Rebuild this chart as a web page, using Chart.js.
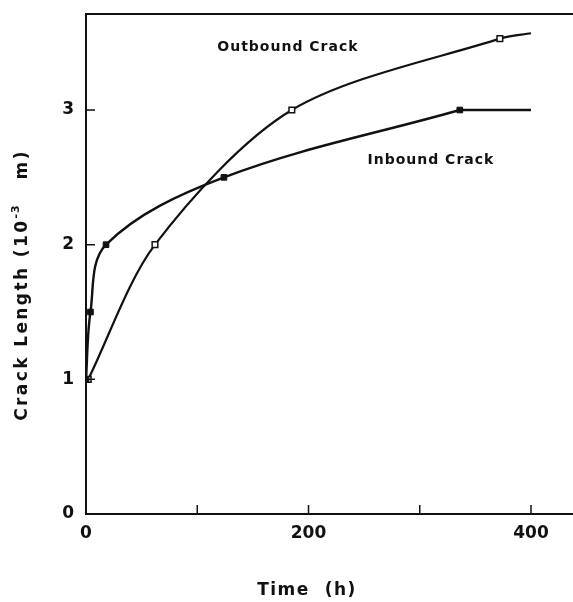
<!DOCTYPE html>
<html>
<head>
<meta charset="utf-8">
<script src="https://cdn.jsdelivr.net/npm/chart.js@4"></script>
<style>
  html, body { margin: 0; padding: 0; background: #fff; }
  #wrap { width: 573px; height: 602px; }
</style>
</head>
<body>
<div id="wrap"><canvas id="crack" width="573" height="602"></canvas></div>
<script>
// values (time in h, crack length in 10^-3 m)
const inboundTime = [0, 4, 18, 124, 336, 400];
const inboundLen = [1.0, 1.5, 2.0, 2.5, 3.0, 3.0];
const outboundTime = [2, 62, 185, 372, 400];
const outboundLen = [1.0, 2.0, 3.0, 3.53, 3.57];
const xLabels = [0, 200, 400];
const yLabels = [0, 1, 2, 3];
const xMinorTicks = [100, 200, 300, 400];
const yMinorTicks = [1, 2, 3];

const ink = '#111';

function pts(xs, ys) {
  return xs.map((x, i) => ({ x: x, y: ys[i] }));
}

// axis titles, curve labels, top frame line and inward ticks
const decor = {
  id: 'decor',
  afterDraw(chart) {
    const { ctx, chartArea: a, scales: { x, y } } = chart;
    ctx.save();
    ctx.strokeStyle = ink;
    ctx.lineWidth = 2;
    ctx.beginPath();
    ctx.moveTo(a.left, a.top);
    ctx.lineTo(a.right, a.top);
    ctx.stroke();

    ctx.lineWidth = 1.5;
    ctx.beginPath();
    xMinorTicks.forEach(v => {
      const px = x.getPixelForValue(v);
      ctx.moveTo(px, a.bottom);
      ctx.lineTo(px, a.bottom - 9);
    });
    yMinorTicks.forEach(v => {
      const py = y.getPixelForValue(v);
      ctx.moveTo(a.left, py);
      ctx.lineTo(a.left + 9, py);
    });
    ctx.stroke();

    ctx.fillStyle = ink;
    ctx.font = 'bold 14px "DejaVu Sans"';
    ctx.letterSpacing = '1px';
    ctx.textBaseline = 'alphabetic';
    ctx.textAlign = 'left';
    ctx.fillText('Outbound Crack', x.getPixelForValue(118), y.getPixelForValue(3.44));
    ctx.fillText('Inbound Crack', x.getPixelForValue(253), y.getPixelForValue(2.6));

    ctx.font = 'bold 17px "DejaVu Sans"';
    ctx.letterSpacing = '1.5px';
    ctx.textAlign = 'center';
    ctx.textBaseline = 'middle';
    ctx.fillText('Time  (h)', 307, 591);

    // rotated y title, superscript drawn smaller and raised
    ctx.translate(27, 285);
    ctx.rotate(-Math.PI / 2);
    ctx.textAlign = 'left';
    ctx.textBaseline = 'alphabetic';
    const big = 'bold 17px "DejaVu Sans"';
    const small = 'bold 11px "DejaVu Sans"';
    const parts = [
      ['Crack Length (10', big, 0, '2.4px'],
      ['-3', small, -8, '1px'],
      ['   m)', big, 0, '2.4px']
    ];
    let total = 0;
    parts.forEach(p => {
      ctx.font = p[1]; ctx.letterSpacing = p[3];
      total += ctx.measureText(p[0]).width;
    });
    let cx = -total / 2;
    parts.forEach(p => {
      ctx.font = p[1]; ctx.letterSpacing = p[3];
      ctx.fillText(p[0], cx, p[2]);
      cx += ctx.measureText(p[0]).width;
    });
    ctx.restore();
  }
};

const ctx = document.getElementById('crack');

new Chart(ctx, {
  type: 'line',
  data: {
    datasets: [{
      label: 'Inbound Crack',
      data: pts(inboundTime.slice(0, 5), inboundLen.slice(0, 5)),
      borderColor: ink,
      borderWidth: 2.4,
      tension: 0.35,
      pointStyle: 'rect',
      pointRadius: 4,
      pointBackgroundColor: ink,
      pointBorderColor: ink,
      pointBorderWidth: 1
    }, {
      // flat tail of the inbound curve
      label: 'Inbound Crack tail',
      data: pts(inboundTime.slice(4), inboundLen.slice(4)),
      borderColor: ink,
      borderWidth: 2.4,
      tension: 0,
      pointRadius: 0
    }, {
      label: 'Outbound Crack',
      data: pts(outboundTime, outboundLen),
      borderColor: ink,
      borderWidth: 2.2,
      tension: 0.3,
      pointStyle: 'rect',
      pointRadius: [4, 4, 4, 4, 0],
      pointBackgroundColor: '#fff',
      pointBorderColor: ink,
      pointBorderWidth: 1.5
    }]
  },
  options: {
    responsive: false,
    animation: false,
    layout: { autoPadding: false, padding: { top: 14, right: 0, left: 0, bottom: 0 } },
    plugins: {
      legend: { display: false },
      tooltip: { enabled: false }
    },
    scales: {
      x: {
        type: 'linear',
        min: 0,
        max: 437.75,
        afterBuildTicks: s => { s.ticks = xLabels.map(v => ({ value: v })); },
        afterFit: s => { s.height = 88; s.paddingLeft = 0; s.paddingRight = 0; },
        grid: { display: false, drawTicks: false },
        border: { display: true, color: ink, width: 2 },
        ticks: {
          padding: 9,
          color: ink,
          font: { family: 'DejaVu Sans', size: 17, weight: 'bold' },
          maxRotation: 0
        }
      },
      y: {
        min: 0,
        max: 3.713,
        afterBuildTicks: s => { s.ticks = yLabels.map(v => ({ value: v })); },
        afterFit: s => { s.width = 86; s.paddingTop = 0; s.paddingBottom = 0; },
        grid: { display: false, drawTicks: false },
        border: { display: true, color: ink, width: 2 },
        ticks: {
          padding: 12,
          color: ink,
          font: { family: 'DejaVu Sans', size: 17, weight: 'bold' }
        }
      }
    }
  },
  plugins: [decor]
});
</script>
</body>
</html>
